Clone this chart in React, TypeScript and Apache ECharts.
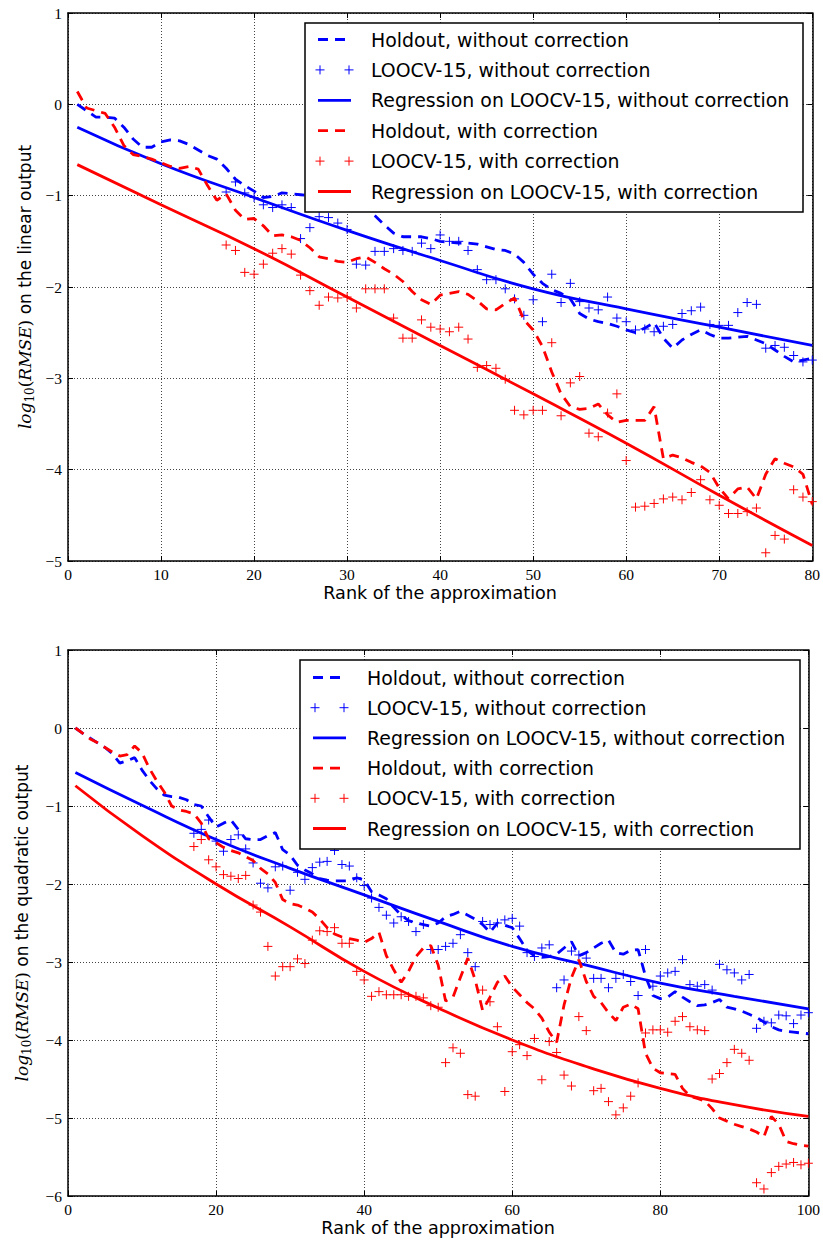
import React, { useEffect, useRef } from "react";
import * as echarts from "echarts";

const BLUE = "#0000ff";
const RED = "#ff0000";

// ---------- Top panel (linear output), rank 1..80 ----------
const topHoldoutWithout = [
  0.0, -0.07, -0.14, -0.14, -0.15, -0.25, -0.38, -0.47, -0.47, -0.41,
  -0.39, -0.4, -0.44, -0.5, -0.56, -0.6, -0.7, -0.82, -0.89, -0.95,
  -1.02, -1.01, -0.97, -0.98, -0.99, -1.0, -1.02, -1.03, -1.05, -1.06,
  -1.08, -1.13, -1.22, -1.32, -1.41, -1.45, -1.45, -1.45, -1.47, -1.5,
  -1.51, -1.52, -1.52, -1.53, -1.56, -1.59, -1.6, -1.64, -1.73, -1.86,
  -1.96, -2.03, -2.07, -2.13, -2.29, -2.35, -2.38, -2.4, -2.43, -2.47,
  -2.5, -2.45, -2.39, -2.56, -2.67, -2.58, -2.52, -2.47, -2.52, -2.56,
  -2.56, -2.55, -2.54, -2.58, -2.62, -2.69, -2.76, -2.82, -2.8, -2.78,
];
const topHoldoutWith = [
  0.14, -0.04, -0.07, -0.1, -0.25, -0.45, -0.55, -0.57, -0.6, -0.64,
  -0.68, -0.7, -0.68, -0.71, -0.89, -1.05, -0.98, -1.16, -1.26, -1.25,
  -1.33, -1.44, -1.43, -1.45, -1.49, -1.57, -1.67, -1.69, -1.72, -1.73,
  -1.69, -1.67, -1.73, -1.8, -1.86, -1.94, -2.05, -2.14, -2.19, -2.09,
  -2.07, -2.05, -2.08, -2.15, -2.24, -2.25, -2.18, -2.12, -2.36, -2.47,
  -2.65, -2.93, -3.17, -3.31, -3.34, -3.33, -3.28, -3.4, -3.48, -3.46,
  -3.46, -3.46, -3.31, -3.88, -3.84, -3.87, -3.92, -3.96, -4.03, -4.2,
  -4.32, -4.21, -4.19, -4.32, -4.05, -3.88, -3.93, -3.97, -4.05, -4.38,
];
// LOOCV-15 starts at rank 17
const topLoocvStart = 17;
const topLoocvWithout = [
  -0.96, -0.85, -0.97, -1.02, -1.1, -1.13, -1.1, -1.13, -1.47, -1.35,
  -1.23, -1.24, -1.3, -1.37, -1.75, -1.76, -1.61, -1.61, -1.58, -1.6,
  -1.61, -1.52, -1.58, -1.43, -1.5, -1.5, -1.6, -1.81, -1.92, -1.92,
  -2.02, -2.13, -2.31, -2.14, -2.38, -1.86, -2.17, -1.96, -2.16, -2.23,
  -2.25, -2.11, -2.34, -2.38, -2.47, -2.46, -2.49, -2.43, -2.41, -2.29,
  -2.26, -2.22, -2.41, -2.42, -2.42, -2.28, -2.17, -2.19, -2.67, -2.64,
  -2.66, -2.75, -2.82, -2.8,
];
const topLoocvWith = [
  -1.54, -1.6, -1.84, -1.86, -1.75, -1.63, -1.58, -1.64, -1.87, -2.04,
  -2.2, -2.11, -2.12, -2.11, -2.23, -2.02, -2.02, -2.02, -2.34, -2.56,
  -2.56, -2.36, -2.44, -2.46, -2.49, -2.44, -2.57, -2.88, -2.86, -2.89,
  -3.01, -3.35, -3.4, -3.35, -3.35, -2.61, -3.41, -3.05, -2.98, -3.6,
  -3.64, -3.38, -3.17, -3.9, -4.41, -4.4, -4.37, -4.32, -4.3, -4.33,
  -4.25, -4.11, -4.33, -4.39, -4.48, -4.48, -4.46, -4.42, -4.91, -4.72,
  -4.76, -4.22, -4.3, -4.35,
];
const topRegRanks = [1, 10, 20, 30, 40, 50, 60, 70, 80];
const topRegWithout = [-0.25, -0.65, -1.02, -1.38, -1.71, -2.02, -2.24, -2.44, -2.64];
const topRegWith = [-0.66, -1.1, -1.58, -2.11, -2.64, -3.17, -3.71, -4.28, -4.83];

// ---------- Bottom panel (quadratic output), rank 1..100 ----------
const botHoldoutWithout = [
  0.0, -0.07, -0.13, -0.19, -0.25, -0.33, -0.45, -0.42, -0.38, -0.54,
  -0.67, -0.78, -0.86, -0.88, -0.89, -0.92, -0.98, -1.0, -1.14, -1.27,
  -1.22, -1.18, -1.3, -1.42, -1.43, -1.43, -1.38, -1.34, -1.56, -1.63,
  -1.76, -1.82, -1.87, -1.93, -1.95, -1.96, -1.96, -1.96, -1.92, -1.95,
  -2.1, -2.14, -2.19, -2.3, -2.4, -2.47, -2.5, -2.52, -2.54, -2.5,
  -2.42, -2.39, -2.35, -2.4, -2.45, -2.52, -2.62, -2.5, -2.53, -2.56,
  -2.7, -2.85, -2.92, -2.94, -2.93, -2.9, -2.82, -2.74, -2.92, -2.88,
  -2.82, -2.76, -2.72, -2.88, -2.9, -2.85, -2.84, -3.18, -3.43, -3.47,
  -3.45, -3.38, -3.45, -3.51, -3.56, -3.55, -3.52, -3.48, -3.58, -3.6,
  -3.63, -3.67, -3.71, -3.77, -3.83, -3.87, -3.89, -3.9, -3.91, -3.92,
];
const botHoldoutWith = [
  0.0, -0.07, -0.14, -0.19, -0.25, -0.31, -0.36, -0.34, -0.23, -0.32,
  -0.52, -0.68, -0.82, -1.0, -1.05, -1.07, -1.1, -1.22, -1.42, -1.47,
  -1.53, -1.57, -1.6, -1.65, -1.7, -1.8, -1.87, -1.98, -2.2, -2.25,
  -2.27, -2.31, -2.36, -2.45, -2.56, -2.64, -2.68, -2.7, -2.72, -2.75,
  -2.7, -2.62, -2.92, -3.1, -3.26, -3.12, -2.93, -2.82, -2.79, -3.04,
  -3.5, -3.45, -3.2, -2.95, -3.23, -3.62, -3.45, -3.26, -3.18, -3.32,
  -3.42, -3.52, -3.6, -3.72, -3.9, -4.03, -3.55, -3.2, -2.97, -3.25,
  -3.44, -3.52, -3.65, -3.75, -3.58, -3.54, -3.6, -4.17, -4.36, -4.42,
  -4.43, -4.44, -4.62, -4.72, -4.75, -4.78, -4.88, -5.0, -5.04, -5.08,
  -5.11, -5.14, -5.18, -5.24, -4.98, -5.08, -5.3, -5.33, -5.35, -5.36,
];
const botLoocvStart = 17;
const botLoocvWithout = [
  -1.35, -1.3, -1.18, -1.45, -1.58, -1.43, -1.37, -1.55, -1.73, -1.99,
  -2.05, -1.78, -1.77, -2.08, -1.85, -1.94, -1.79, -1.72, -1.71, -1.57,
  -1.75, -1.77, -1.92, -2.02, -2.18, -2.3, -2.4, -2.5, -2.42, -2.48,
  -2.61, -2.52, -2.84, -2.84, -2.8, -2.76, -2.65, -2.88, -3.06, -2.48,
  -2.52, -2.5, -2.46, -2.44, -2.54, -2.88, -2.93, -2.82, -2.78, -3.33,
  -3.23, -2.86, -2.91, -2.95, -3.21, -3.21, -3.33, -3.21, -3.16, -3.25,
  -3.43, -2.84, -3.31, -3.18, -3.14, -3.12, -2.97, -3.29, -3.31, -3.29,
  -3.36, -3.03, -3.1, -3.14, -3.23, -3.16, -3.85, -3.76, -3.78, -3.68,
  -3.69, -3.79, -3.68, -3.65,
];
const botLoocvWith = [
  -1.52, -1.43, -1.69, -1.78, -1.88, -1.9, -1.93, -1.89, -2.27, -2.36,
  -2.8, -3.18, -3.06, -3.06, -2.96, -3.02, -2.72, -2.6, -2.61, -2.56,
  -2.76, -2.76, -3.12, -3.23, -3.44, -3.38, -3.42, -3.42, -3.42, -3.44,
  -3.44, -3.46, -3.56, -3.58, -4.29, -4.1, -4.17, -4.7, -4.72, -3.36,
  -3.51, -3.83, -4.66, -4.15, -4.06, -4.2, -3.98, -4.51, -4.02, -4.16,
  -4.45, -4.59, -3.7, -3.88, -4.65, -4.62, -4.79, -4.96, -4.87, -4.72,
  -4.55, -3.91, -3.87, -3.87, -3.9, -3.76, -3.7, -3.83, -3.87, -3.88,
  -4.5, -4.43, -4.29, -4.12, -4.17, -4.26, -5.83, -5.91, -5.7, -5.62,
  -5.59, -5.57, -5.6, -5.58,
];
const botRegRanks = [1, 10, 20, 30, 40, 50, 60, 70, 80, 90, 100];
const botRegWithout = [-0.57, -0.99, -1.43, -1.8, -2.14, -2.48, -2.8, -3.04, -3.27, -3.44, -3.6];
const botRegWith = [-0.74, -1.38, -2.0, -2.55, -3.12, -3.59, -4.0, -4.34, -4.62, -4.83, -4.98];

const legendLabels = [
  "Holdout, without correction",
  "LOOCV-15, without correction",
  "Regression on LOOCV-15, without correction",
  "Holdout, with correction",
  "LOOCV-15, with correction",
  "Regression on LOOCV-15, with correction",
];
const legendKinds = ["dash", "plus", "line", "dash", "plus", "line"];
const legendColors = [BLUE, BLUE, BLUE, RED, RED, RED];

const PLUS = "path://M0,4.5L9,4.5M4.5,0L4.5,9";
const DASH = [10, 7];
const LW = 2.8;

const fromStart = (vals: number[], start: number) => vals.map((v, i) => [i + start, v]);
const pairs = (xs: number[], ys: number[]) => xs.map((x, i) => [x, ys[i]]);
const fmt = (v: number) => (v < 0 ? "\u2212" + Math.abs(v) : String(v));

function legendGraphics(box: { x: number; y: number; w: number; h: number }, row0: number, rowGap: number, sx1: number, sx2: number, tx: number) {
  const els: any[] = [
    {
      type: "rect",
      z: 100,
      shape: { x: box.x, y: box.y, width: box.w, height: box.h },
      style: { fill: "#fff", stroke: "#000", lineWidth: 1.5 },
    },
  ];
  legendLabels.forEach((label, i) => {
    const y = row0 + rowGap * i;
    const c = legendColors[i];
    const k = legendKinds[i];
    if (k === "dash" || k === "line") {
      els.push({
        type: "line",
        z: 101,
        shape: { x1: sx1, y1: y, x2: sx2, y2: y },
        style: { stroke: c, lineWidth: LW, lineDash: k === "dash" ? DASH : null },
      });
    } else {
      [sx1 + 2, sx2 - 2].forEach((cx) => {
        els.push({ type: "line", z: 101, shape: { x1: cx - 4.5, y1: y, x2: cx + 4.5, y2: y }, style: { stroke: c, lineWidth: 1 } });
        els.push({ type: "line", z: 101, shape: { x1: cx, y1: y - 4.5, x2: cx, y2: y + 4.5 }, style: { stroke: c, lineWidth: 1 } });
      });
    }
    els.push({
      type: "text",
      z: 101,
      x: tx,
      y,
      style: {
        text: label,
        fill: "#000",
        fontFamily: "DejaVu Sans",
        fontSize: 18.9,
        align: "left",
        verticalAlign: "middle",
      },
    });
  });
  return els;
}

function yLabel(x: number, y: number, rest: string) {
  return {
    type: "text",
    z: 100,
    x,
    y,
    rotation: Math.PI / 2,
    style: {
      text: "{it|log}{sub|10}{p|(}{it|RMSE}{p|)}{n| " + rest + "}",
      align: "center",
      verticalAlign: "middle",
      fill: "#000",
      rich: {
        it: { fontFamily: "DejaVu Serif", fontStyle: "italic", fontSize: 17, lineHeight: 22, fill: "#000" },
        sub: { fontFamily: "DejaVu Serif", fontSize: 12, lineHeight: 12, verticalAlign: "bottom", fill: "#000" },
        p: { fontFamily: "DejaVu Serif", fontSize: 17, lineHeight: 22, fill: "#000" },
        n: { fontFamily: "DejaVu Sans", fontSize: 17, lineHeight: 22, fill: "#000" },
      },
    },
  };
}

const frameLine = { show: true, onZero: false, lineStyle: { color: "#000", width: 1.5 } };
const tick = { show: true, inside: true, length: 5, lineStyle: { color: "#000", width: 1 } };
const grid = { show: true, lineStyle: { color: "#444", width: 1, type: [1, 2] } };
const tickLabel = { fontFamily: "Liberation Serif", fontSize: 15.5, color: "#000", formatter: fmt };

function xAxes(gridIndex: number, max: number, interval: number) {
  return [
    {
      type: "value",
      gridIndex,
      min: 0,
      max,
      interval,
      position: "bottom",
      axisLine: frameLine,
      axisTick: tick,
      axisLabel: { ...tickLabel, margin: 5 },
      splitLine: grid,
      name: "Rank of the approximation",
      nameLocation: "middle",
      nameGap: 23,
      nameTextStyle: { fontFamily: "DejaVu Sans", fontSize: 17.6, color: "#000", verticalAlign: "top" },
    },
    {
      type: "value",
      gridIndex,
      min: 0,
      max,
      interval,
      position: "top",
      axisLine: frameLine,
      axisTick: tick,
      axisLabel: { show: false },
      splitLine: { show: false },
    },
  ];
}

function yAxes(gridIndex: number, min: number, max: number) {
  return [
    {
      type: "value",
      gridIndex,
      min,
      max,
      interval: 1,
      position: "left",
      axisLine: frameLine,
      axisTick: tick,
      axisLabel: { ...tickLabel, margin: 6 },
      splitLine: grid,
    },
    {
      type: "value",
      gridIndex,
      min,
      max,
      interval: 1,
      position: "right",
      axisLine: frameLine,
      axisTick: tick,
      axisLabel: { show: false },
      splitLine: { show: false },
    },
  ];
}

function lineSeries(name: string, data: number[][], color: string, axis: number, dashed: boolean, smooth = false) {
  return {
    type: "line",
    name,
    xAxisIndex: axis,
    yAxisIndex: axis,
    data,
    symbol: "none",
    showSymbol: false,
    smooth,
    silent: true,
    lineStyle: { color, width: LW, type: dashed ? DASH : "solid" },
    itemStyle: { color },
  };
}

function plusSeries(name: string, data: number[][], color: string, axis: number) {
  return {
    type: "scatter",
    name,
    xAxisIndex: axis,
    yAxisIndex: axis,
    data,
    symbol: PLUS,
    symbolSize: 9,
    silent: true,
    itemStyle: { color: "none", borderColor: color, borderWidth: 1, opacity: 1 },
  };
}

export default function App() {
  const ref = useRef<HTMLDivElement>(null);
  useEffect(() => {
    if (!ref.current) return;
    const chart = echarts.init(ref.current, null, { renderer: "svg" });
    chart.setOption({
      animation: false,
      backgroundColor: "#fff",
      grid: [
        { left: 68, top: 13, width: 745, height: 548 },
        { left: 68, top: 650, width: 741, height: 546 },
      ],
      xAxis: [...xAxes(0, 80, 10), ...xAxes(1, 100, 20)],
      yAxis: [...yAxes(0, -5, 1), ...yAxes(1, -6, 1)],
      series: [
        lineSeries(legendLabels[0], fromStart(topHoldoutWithout, 1), BLUE, 0, true),
        plusSeries(legendLabels[1], fromStart(topLoocvWithout, topLoocvStart), BLUE, 0),
        lineSeries(legendLabels[2], pairs(topRegRanks, topRegWithout), BLUE, 0, false, true),
        lineSeries(legendLabels[3], fromStart(topHoldoutWith, 1), RED, 0, true),
        plusSeries(legendLabels[4], fromStart(topLoocvWith, topLoocvStart), RED, 0),
        lineSeries(legendLabels[5], pairs(topRegRanks, topRegWith), RED, 0, false, true),

        lineSeries(legendLabels[0], fromStart(botHoldoutWithout, 1), BLUE, 2, true),
        plusSeries(legendLabels[1], fromStart(botLoocvWithout, botLoocvStart), BLUE, 2),
        lineSeries(legendLabels[2], pairs(botRegRanks, botRegWithout), BLUE, 2, false, true),
        lineSeries(legendLabels[3], fromStart(botHoldoutWith, 1), RED, 2, true),
        plusSeries(legendLabels[4], fromStart(botLoocvWith, botLoocvStart), RED, 2),
        lineSeries(legendLabels[5], pairs(botRegRanks, botRegWith), RED, 2, false, true),
      ],
      graphic: [
        ...legendGraphics({ x: 305, y: 23, w: 498, h: 189 }, 39.5, 30.4, 318, 351, 371),
        ...legendGraphics({ x: 300, y: 660, w: 500, h: 189 }, 677.5, 30.2, 313, 346, 367),
        yLabel(25, 287, "on the linear output"),
        yLabel(22, 923, "on the quadratic output"),
      ],
    });
    return () => chart.dispose();
  }, []);
  return (
    <div
      ref={ref}
      style={{ position: "absolute", left: 0, top: 0, width: 823, height: 1245, background: "#fff" }}
    />
  );
}
